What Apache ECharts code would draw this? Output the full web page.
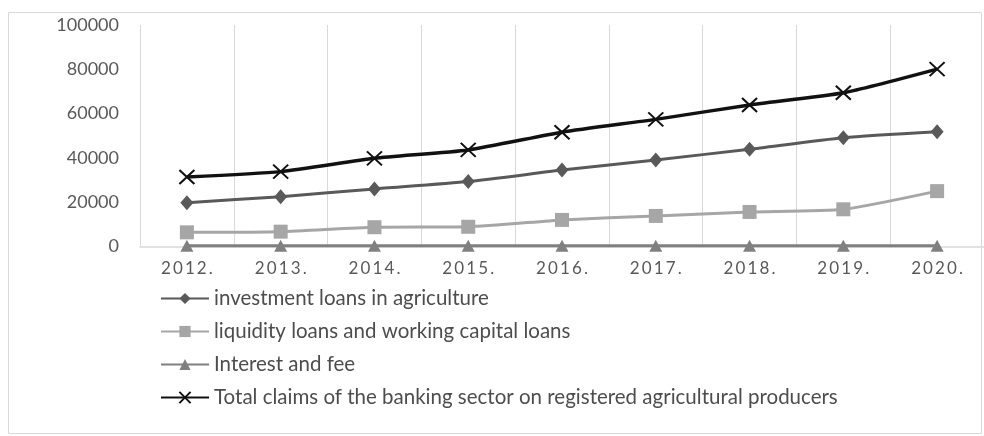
<!DOCTYPE html>
<html>
<head>
<meta charset="utf-8">
<style>
  html, body { margin: 0; padding: 0; background: #ffffff; }
  #chart { width: 984px; height: 436px; }
</style>
<script src="https://cdn.jsdelivr.net/npm/echarts@6/dist/echarts.min.js"></script>
</head>
<body>
<div id="chart"></div>
<script>
// Years on the category axis
const years = ['2012.', '2013.', '2014.', '2015.', '2016.', '2017.', '2018.', '2019.', '2020.'];

// Series values
const investmentLoans = [19800, 22500, 26000, 29300, 34500, 39100, 43900, 49100, 51800];
const liquidityLoans = [6400, 6700, 8700, 8900, 12000, 13800, 15600, 16800, 25000];
const interestAndFee = [300, 300, 300, 300, 300, 300, 300, 300, 300];
const totalClaims = [31400, 33800, 39800, 43600, 51600, 57400, 63900, 69400, 80100];

// Value axis ticks
const yTicks = [0, 20000, 40000, 60000, 80000, 100000];

const seriesNames = [
  'investment loans in agriculture',
  'liquidity loans and working capital loans',
  'Interest and fee',
  'Total claims of the banking sector on registered agricultural producers'
];

const FONT = 'Lato';
const TEXT_COLOR = '#595959';
const GRID_COLOR = '#d9d9d9';

const chart = echarts.init(document.getElementById('chart'), null, { renderer: 'canvas' });

// spread the year digits a little apart
const spaced = s => s.split('').join('\u2009');

const option = {
  backgroundColor: '#ffffff',
  animation: false,
  graphic: [{
    type: 'rect',
    silent: true,
    shape: { x: 8.5, y: 12.5, width: 973, height: 421 },
    style: { fill: 'none', stroke: GRID_COLOR, lineWidth: 1 }
  }],
  grid: { left: 140, right: -5, top: 25, bottom: 189.5, containLabel: false },
  xAxis: {
    type: 'category',
    data: years,
    boundaryGap: true,
    axisLine: { show: true, lineStyle: { color: GRID_COLOR, width: 1.5 } },
    axisTick: { show: false },
    splitLine: { show: true, lineStyle: { color: GRID_COLOR, width: 1 } },
    axisLabel: {
      margin: 14,
      color: TEXT_COLOR,
      fontFamily: FONT,
      fontSize: 17,
      formatter: v => spaced(v)
    }
  },
  yAxis: {
    type: 'value',
    min: yTicks[0],
    max: yTicks[yTicks.length - 1],
    interval: yTicks[1] - yTicks[0],
    axisLine: { show: false },
    axisTick: { show: false },
    splitLine: { show: false },
    axisLabel: {
      margin: 21,
      color: TEXT_COLOR,
      fontFamily: FONT,
      fontSize: 18,
      formatter: v => String(v)
    }
  },
  legend: {
    orient: 'vertical',
    left: 155,
    top: 283,
    itemWidth: 48,
    itemHeight: 14,
    itemGap: 12,
    textStyle: { color: '#4d4d4d', fontFamily: FONT, fontSize: 20.5, lineHeight: 20 },
    data: seriesNames
  },
  series: [
    {
      name: seriesNames[0],
      type: 'line',
      data: investmentLoans,
      smooth: 0.2,
      symbol: 'diamond',
      symbolSize: [13, 15],
      lineStyle: { color: '#595959', width: 3 },
      itemStyle: { color: '#595959', borderWidth: 0 },
      z: 3
    },
    {
      name: seriesNames[1],
      type: 'line',
      data: liquidityLoans,
      smooth: 0.2,
      symbol: 'rect',
      symbolSize: 14,
      lineStyle: { color: '#a6a6a6', width: 3 },
      itemStyle: { color: '#a6a6a6', borderWidth: 0 },
      z: 2
    },
    {
      name: seriesNames[2],
      type: 'line',
      data: interestAndFee,
      smooth: 0.2,
      symbol: 'triangle',
      symbolSize: [13, 12],
      lineStyle: { color: '#808080', width: 3 },
      itemStyle: { color: '#808080', borderWidth: 0 },
      z: 2
    },
    {
      name: seriesNames[3],
      type: 'line',
      data: totalClaims,
      smooth: 0.2,
      symbol: 'path://M0,0L10,10M10,0L0,10',
      symbolSize: [15, 14],
      lineStyle: { color: '#111111', width: 3.5 },
      itemStyle: { color: '#111111', borderColor: '#111111', borderWidth: 2 },
      z: 4
    }
  ]
};

chart.setOption(option);
</script>
</body>
</html>
